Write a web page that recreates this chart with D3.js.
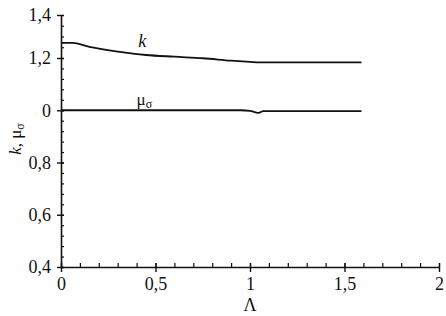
<!DOCTYPE html>
<html>
<head>
<meta charset="utf-8">
<script src="https://cdn.jsdelivr.net/npm/d3@7.9.0/dist/d3.min.js"></script>
<style>
  html, body { margin: 0; padding: 0; background: #fff; }
  svg { display: block; }
  svg text { font-family: "Liberation Serif", "Times New Roman", Times, "DejaVu Serif", serif !important; fill: #111; }
</style>
</head>
<body>
<svg id="chart" width="446" height="316"></svg>
<script>
// values
const lambdaK = [0, 0.06, 0.15, 0.3, 0.45, 0.6, 0.75, 0.9, 1.0, 1.05, 1.2, 1.4, 1.59];
const kValues = [1.27, 1.27, 1.252, 1.23, 1.214, 1.206, 1.199, 1.19, 1.185, 1.183, 1.183, 1.183, 1.183];

const lambdaMu = [0, 0.5, 0.95, 1.0, 1.03, 1.045, 1.07, 1.2, 1.59];
const muValues = [1.0, 1.0, 1.0, 0.998, 0.992, 0.99, 0.997, 0.997, 0.997];

const xMajor = [0, 0.5, 1, 1.5, 2];
const xLabels = ['0', '0,5', '1', '1,5', '2'];
const yMajor = [0.4, 0.6, 0.8, 1.0, 1.2, 1.4];
const yLabels = ['0,4', '0,6', '0,8', '0', '1,2', '1,4'];

const svg = d3.select('#chart');
const ink = '#111';
const serif = '"Liberation Serif", "Times New Roman", Times, serif';

// the printed axis is squeezed above 1,2, so the scale has two pieces
const x = d3.scaleLinear().domain([0, 2]).range([61, 439]);
const y = d3.scaleLinear().domain([0.4, 1.2, 1.4]).range([267, 58, 15]);

// minor ticks
const xMinor = d3.range(0, 2.0001, 0.1).map(d => +d.toFixed(2));
const yMinor = d3.range(0.4, 1.2001, 0.04).map(d => +d.toFixed(2))
    .concat([1.25, 1.3, 1.35, 1.4]);

// x axis
svg.append('g')
    .attr('transform', `translate(0,${y(0.4)})`)
    .call(d3.axisTop(x).tickValues(xMinor).tickSize(4).tickSizeOuter(0).tickFormat(''))
    .call(g => g.selectAll('line').attr('stroke', ink).attr('stroke-width', 1.2))
    .call(g => g.select('.domain').remove());

const xAxis = svg.append('g')
    .attr('transform', `translate(0,${y(0.4)})`)
    .call(d3.axisBottom(x).tickValues(xMajor).tickSize(5).tickSizeOuter(0).tickPadding(5)
        .tickFormat((d, i) => xLabels[i]));
xAxis.attr('font-family', serif);
xAxis.select('.domain').attr('stroke', ink).attr('stroke-width', 1.6);
xAxis.selectAll('line').attr('stroke', ink).attr('stroke-width', 1.4).attr('y1', -4);
xAxis.selectAll('text').attr('font-size', 18).attr('fill', ink);

// y axis
svg.append('g')
    .attr('transform', `translate(${x(0)},0)`)
    .call(d3.axisRight(y).tickValues(yMinor).tickSize(3).tickSizeOuter(0).tickFormat(''))
    .call(g => g.selectAll('line').attr('stroke', ink).attr('stroke-width', 1.2))
    .call(g => g.select('.domain').remove());

const yAxis = svg.append('g')
    .attr('transform', `translate(${x(0)},0)`)
    .call(d3.axisLeft(y).tickValues(yMajor).tickSize(4).tickSizeOuter(0).tickPadding(6)
        .tickFormat((d, i) => yLabels[i]));
yAxis.attr('font-family', serif);
yAxis.select('.domain').attr('stroke', ink).attr('stroke-width', 1.6);
yAxis.selectAll('line').attr('stroke', ink).attr('stroke-width', 1.4).attr('x1', 3);
yAxis.selectAll('text').attr('font-size', 18).attr('fill', ink);

// curves
const line = d3.line().x(d => x(d[0])).y(d => y(d[1])).curve(d3.curveMonotoneX);

svg.append('path')
    .datum(d3.zip(lambdaK, kValues))
    .attr('d', line)
    .attr('fill', 'none').attr('stroke', ink).attr('stroke-width', 1.8);

svg.append('path')
    .datum(d3.zip(lambdaMu, muValues))
    .attr('d', line)
    .attr('fill', 'none').attr('stroke', ink).attr('stroke-width', 1.8);

// curve labels
svg.append('text')
    .attr('x', x(0.43)).attr('y', y(1.23) - 5)
    .attr('text-anchor', 'middle')
    .attr('font-size', 18).attr('font-style', 'italic')
    .text('k');

const mu = svg.append('text')
    .attr('x', x(0.4)).attr('y', y(1.0) - 5)
    .attr('font-size', 17);
mu.append('tspan').text('μ');
mu.append('tspan').attr('font-size', 12).attr('dy', 3).text('σ');

// axis titles
svg.append('text')
    .attr('x', x(1)).attr('y', 311)
    .attr('text-anchor', 'middle')
    .attr('font-size', 18)
    .text('Λ');

const yTitle = svg.append('text')
    .attr('transform', `translate(21,${y(0.89)}) rotate(-90)`)
    .attr('text-anchor', 'middle')
    .attr('font-size', 17);
yTitle.append('tspan').attr('font-style', 'italic').text('k');
yTitle.append('tspan').text(', μ');
yTitle.append('tspan').attr('font-size', 12).attr('dy', 3).text('σ');
</script>
</body>
</html>
